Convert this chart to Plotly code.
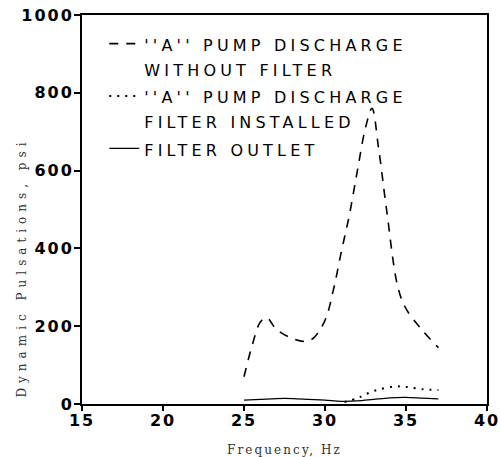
import plotly.graph_objects as go

# Data
freq_a_nofilter = [25.0, 25.5, 26.0, 26.4, 27.0, 28.0, 28.8, 29.3, 30.0, 30.5, 31.0,
                   31.5, 32.0, 32.5, 32.9, 33.3, 33.8, 34.5, 35.0, 36.0, 37.0]
psi_a_nofilter = [70, 150, 210, 222, 192, 168, 161, 170, 215, 290, 390,
                  485, 600, 710, 760, 660, 500, 300, 245, 190, 145]

freq_a_filter = [31.2, 32.0, 32.5, 33.3, 34.3, 35.0, 36.0, 37.0]
psi_a_filter = [5, 15, 25, 37, 45, 44, 38, 36]

freq_outlet = [25, 26, 27, 28, 29, 30, 31, 32, 33, 34, 35, 36, 37]
psi_outlet = [10, 12, 14, 14, 12, 10, 7, 8, 12, 16, 17, 15, 13]

x_ticks = [15, 20, 25, 30, 35, 40]
y_ticks = [0, 200, 400, 600, 800, 1000]

names = ["''A'' PUMP DISCHARGE<br>WITHOUT FILTER",
         "''A'' PUMP DISCHARGE<br>FILTER INSTALLED",
         "FILTER OUTLET"]


def spaced(text, px, size=None):
    fs = f";font-size:{size}px" if size else ""
    return f'<span style="letter-spacing:{px}px{fs}">{text}</span>'


def spaced_lines(text, px, size=None):
    return "<br>".join(spaced(t, px, size) for t in text.split("<br>"))


fig = go.Figure()
fig.add_trace(go.Scatter(x=freq_a_nofilter, y=psi_a_nofilter, mode="lines",
                         line=dict(color="black", width=1.6, dash="9px,8px", shape="spline"),
                         name=spaced_lines(names[0], 4.2, 16)))
fig.add_trace(go.Scatter(x=freq_a_filter, y=psi_a_filter, mode="lines",
                         line=dict(color="black", width=2, dash="2px,6px", shape="spline"),
                         name=spaced_lines(names[1], 4.2, 16)))
fig.add_trace(go.Scatter(x=freq_outlet, y=psi_outlet, mode="lines",
                         line=dict(color="black", width=1.3, shape="spline"),
                         name=spaced_lines(names[2], 4.2, 16)))

tickfont = dict(family="DejaVu Sans", size=16, color="black", weight="bold")

fig.update_layout(
    width=500, height=457,
    margin=dict(l=82, r=13, t=15, b=53),
    plot_bgcolor="white", paper_bgcolor="white",
    showlegend=True,
    legend=dict(x=0.055, y=0.975, xanchor="left", yanchor="top",
                bgcolor="rgba(0,0,0,0)", valign="top",
                font=dict(family="DejaVu Sans", size=19, color="black"),
                tracegroupgap=0, itemwidth=30),
    xaxis=dict(range=[15, 40], tickvals=x_ticks,
               ticktext=[spaced(str(v), 2) for v in x_ticks],
               ticks="outside", ticklen=5, automargin=False,
               tickwidth=1.5, tickcolor="black", showgrid=False, zeroline=False,
               showline=True, linecolor="black", linewidth=2, mirror=True,
               tickfont=tickfont, ticklabelstandoff=-4, ticklabeloverflow="allow",
               title=dict(text=spaced("Frequency, Hz", 2.1), standoff=18,
                          font=dict(family="DejaVu Serif", size=12, color="#333"))),
    yaxis=dict(range=[0, 1000], tickvals=y_ticks,
               ticktext=[spaced(str(v), 2) for v in y_ticks],
               ticks="outside", ticklen=6, automargin=False,
               tickwidth=1.5, tickcolor="black", showgrid=False, zeroline=False,
               showline=True, linecolor="black", linewidth=2, mirror=True,
               tickfont=tickfont, ticklabelstandoff=-3, ticklabeloverflow="allow"),
    annotations=[dict(text=spaced("Dynamic Pulsations, psi", 5.0), textangle=-90,
                      xref="paper", yref="paper", x=-0.147, y=0.352,
                      xanchor="center", yanchor="middle", showarrow=False,
                      font=dict(family="DejaVu Serif", size=12, color="#333"))],
)

fig.write_html("out.html", config={"displayModeBar": False},
               post_script="document.body.style.margin='0';")
